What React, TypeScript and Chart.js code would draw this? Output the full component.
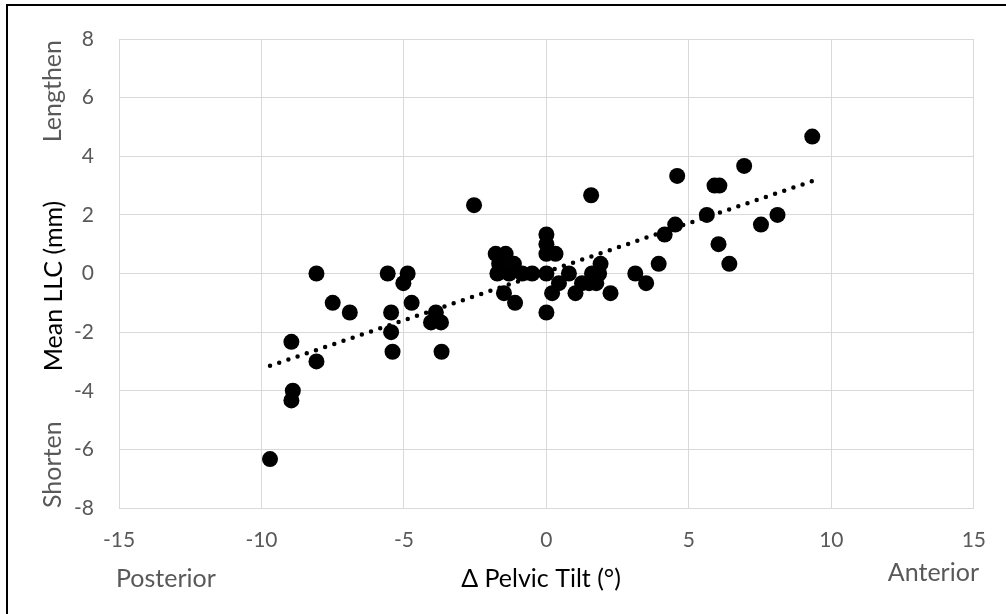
import React, { useEffect, useRef } from "react";
import { Chart, registerables } from "chart.js";

Chart.register(...registerables);

// Δ Pelvic Tilt (°) of each patient
const tiltValues = [
  -9.7, -8.95, -8.9, -8.95, -8.07, -8.07, -7.5, -6.9, -5.57, -5.45,
  -5.45, -5.4, -4.87, -5.02, -4.73, -4.05, -3.88, -3.7, -3.68, -2.54,
  -1.78, -1.43, -1.66, -1.14, -1.72, -1.31, -0.85, -0.5, 0, -1.49,
  -1.1, 0, 0, 0, 0, 0.32, 0.2, 0.44, 0.79, 1.02,
  1.25, 1.5, 1.6, 1.75, 1.85, 1.9, 2.25, 3.12, 3.5, 3.94,
  1.57, 4.15, 4.52, 4.59, 5.63, 5.9, 6.07, 6.04, 6.42, 6.94,
  7.53, 8.11, 9.33,
];

// Mean LLC (mm) of each patient
const llcValues = [
  -6.33, -4.33, -4.0, -2.33, -3.0, 0, -1.0, -1.33, 0, -1.33,
  -2.0, -2.67, 0, -0.33, -1.0, -1.67, -1.33, -1.67, -2.67, 2.33,
  0.67, 0.67, 0.33, 0.33, 0, 0, 0, 0, 0, -0.67,
  -1.0, -1.33, 1.33, 1.0, 0.67, 0.67, -0.67, -0.33, 0, -0.67,
  -0.33, -0.33, 0, -0.33, 0, 0.33, -0.67, 0, -0.33, 0.33,
  2.67, 1.33, 1.67, 3.33, 2.0, 3.0, 3.0, 1.0, 0.33, 3.67,
  1.67, 2.0, 4.67,
];

// Linear trend line end points
const trendX = [-9.7, 9.33];
const trendY = [-3.15, 3.15];

const xMin = -15;
const xMax = 15;
const xStep = 5;
const yMin = -8;
const yMax = 8;
const yStep = 2;

const FONT = "Lato, 'Open Sans', sans-serif";
const GRAY = "#595959";
const GRID = "#d9d9d9";

const labelsPlugin = {
  id: "customLabels",
  afterDraw(chart: any) {
    const ctx = chart.ctx as CanvasRenderingContext2D;
    ctx.save();
    // frame (top + left visible)
    ctx.fillStyle = "#000";
    ctx.fillRect(6, 4, 1000, 2);
    ctx.fillRect(6, 4, 2, 610);

    ctx.font = `25px ${FONT}`;
    ctx.textBaseline = "alphabetic";
    ctx.fillStyle = GRAY;
    ctx.textAlign = "left";
    ctx.fillText("Posterior", 116, 587);
    ctx.textAlign = "right";
    ctx.fillText("Anterior", 979, 581);
    ctx.fillStyle = "#000";
    ctx.textAlign = "center";
    ctx.fillText("Δ Pelvic Tilt (°)", 541, 587);

    const rot = (text: string, x: number, y: number, color: string, align: CanvasTextAlign) => {
      ctx.save();
      ctx.translate(x, y);
      ctx.rotate(-Math.PI / 2);
      ctx.fillStyle = color;
      ctx.textAlign = align;
      ctx.textBaseline = "alphabetic";
      ctx.fillText(text, 0, 0);
      ctx.restore();
    };
    rot("Mean LLC (mm)", 62, 286, "#000", "center");
    rot("Lengthen", 61, 40, GRAY, "right");
    rot("Shorten", 61, 508, GRAY, "left");
    ctx.restore();
  },
};

export default function App() {
  const canvasRef = useRef<HTMLCanvasElement | null>(null);

  useEffect(() => {
    if (!canvasRef.current) return;
    const points = tiltValues.map((x, i) => ({ x, y: llcValues[i] }));
    const trend = trendX.map((x, i) => ({ x, y: trendY[i] }));
    const chart = new Chart(canvasRef.current, {
      type: "scatter",
      data: {
        datasets: [
          {
            label: "Trend",
            data: trend,
            showLine: true,
            pointRadius: 0,
            borderColor: "#000",
            borderWidth: 4.5,
            borderDash: [0, 9.7],
            borderCapStyle: "round",
            fill: false,
            order: 1,
          } as any,
          {
            label: "Patients",
            data: points,
            pointRadius: 8,
            pointHoverRadius: 8,
            backgroundColor: "#000",
            borderWidth: 0,
            order: 2,
          },
        ],
      },
      options: {
        responsive: false,
        animation: false,
        layout: { padding: { left: 0, top: 39, right: 30, bottom: 0 } },
        plugins: {
          legend: { display: false },
          tooltip: { enabled: false },
        },
        scales: {
          x: {
            type: "linear",
            min: xMin,
            max: xMax,
            ticks: {
              stepSize: xStep,
              color: GRAY,
              font: { family: FONT, size: 21 },
              padding: 20,
            },
            grid: { color: GRID, lineWidth: 1, drawTicks: false },
            border: { display: true, color: GRID },
            afterFit: (s: any) => {
              s.height = 106;
            },
          },
          y: {
            type: "linear",
            min: yMin,
            max: yMax,
            ticks: {
              stepSize: yStep,
              color: GRAY,
              font: { family: FONT, size: 21 },
              padding: 25,
            },
            grid: { color: GRID, lineWidth: 1, drawTicks: false },
            border: { display: true, color: GRID },
            afterFit: (s: any) => {
              s.width = 119;
            },
          },
        },
      },
      plugins: [labelsPlugin],
    });
    return () => chart.destroy();
  }, []);

  return (
    <div style={{ position: "fixed", left: 0, top: 0, width: 1006, height: 614, background: "#fff" }}>
      <canvas ref={canvasRef} width={1006} height={614} style={{ width: 1006, height: 614, display: "block" }} />
    </div>
  );
}
